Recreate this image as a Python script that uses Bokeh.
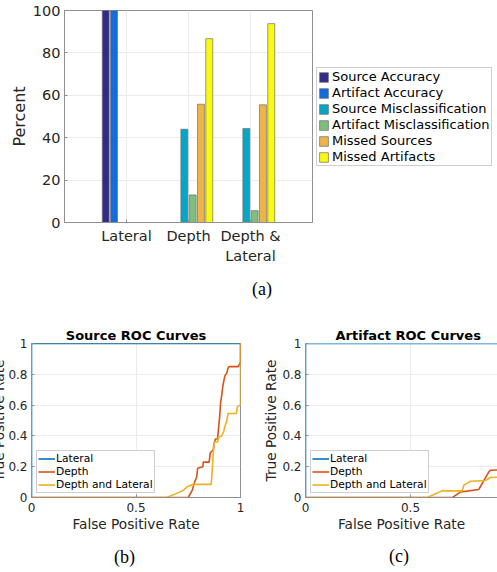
from bokeh.plotting import figure
from bokeh.layouts import column, row
from bokeh.models import (ColumnDataSource, Range1d, FixedTicker, Legend, LegendItem,
                          Title, Div)
from bokeh.transform import dodge
from bokeh.embed import file_html
from bokeh.resources import INLINE

FONT = "DejaVu Sans"
SERIF = "Liberation Serif"
TXT = "#262626"
AXC = "#8f8f8f"
GRID = "#ebebeb"

# ---------------- (a) grouped bars ----------------
group_labels = ["Lateral", "Depth", "Depth &\nLateral"]
group_pos = [1, 2, 3]
series_names = ["Source Accuracy", "Artifact Accuracy", "Source Misclassification",
                "Artifact Misclassification", "Missed Sources", "Missed Artifacts"]
source_accuracy = [100, 0, 0]
artifact_accuracy = [100, 0, 0]
source_misclassification = [0, 44.0, 44.3]
artifact_misclassification = [0, 13.0, 5.6]
missed_sources = [0, 55.8, 55.5]
missed_artifacts = [0, 86.7, 93.8]
bar_colors = ["#352a87", "#0f6ddd", "#06a6c6", "#7dbf7b", "#eeb446", "#f9fb0e"]
y_ticks_a = [0, 20, 40, 60, 80, 100]

# ---------------- (b) source ROC ----------------
lateral_src_fpr = [0, 0, 1]
lateral_src_tpr = [0, 1, 1]
depth_src_fpr = [0, 0.75, 0.77, 0.78, 0.79, 0.795, 0.82, 0.822, 0.85, 0.855, 0.87, 0.872,
                 0.88, 0.89, 0.895, 0.90, 0.905, 0.91, 0.915, 0.925, 0.935, 0.94, 0.945,
                 0.99, 1.0, 1.0]
depth_src_tpr = [0, 0, 0.05, 0.10, 0.13, 0.19, 0.20, 0.23, 0.23, 0.29, 0.31, 0.34,
                 0.38, 0.38, 0.45, 0.52, 0.62, 0.66, 0.72, 0.79, 0.81, 0.84, 0.85,
                 0.85, 0.88, 1.0]
both_src_fpr = [0, 0.647, 0.70, 0.725, 0.745, 0.77, 0.86, 0.865, 0.87, 0.875, 0.89, 0.895,
                0.91, 0.92, 0.925, 0.935, 0.94, 0.98, 0.985, 1.0, 1.0]
both_src_tpr = [0, 0, 0.03, 0.045, 0.07, 0.085, 0.085, 0.18, 0.30, 0.36, 0.36, 0.39,
                0.40, 0.43, 0.46, 0.50, 0.545, 0.545, 0.59, 0.60, 1.0]

# ---------------- (c) artifact ROC ----------------
lateral_art_fpr = [0, 0, 1]
lateral_art_tpr = [0, 1, 1]
depth_art_fpr = [0, 0.70, 0.738, 0.778, 0.825, 0.873, 0.88, 0.95, 1.0, 1.0]
depth_art_tpr = [0, 0, 0.036, 0.043, 0.052, 0.166, 0.177, 0.18, 0.25, 1.0]
both_art_fpr = [0, 0.58, 0.65, 0.746, 0.754, 0.773, 0.786, 0.857, 0.88, 0.95, 1.0, 1.0]
both_art_tpr = [0, 0, 0.043, 0.043, 0.08, 0.095, 0.106, 0.11, 0.13, 0.134, 0.2, 1.0]
roc_names = ["Lateral", "Depth", "Depth and Lateral"]
roc_colors = ["#0072bd", "#d95319", "#edb120"]
roc_ticks_x = [0, 0.5, 1]
roc_ticks_y = [0, 0.2, 0.4, 0.6, 0.8, 1]


def style_axes(p, tick_size, label_size):
    for ax in p.axis:
        ax.axis_line_color = AXC
        ax.major_tick_line_color = AXC
        ax.major_tick_in = 3
        ax.major_tick_out = 0
        ax.minor_tick_line_color = None
        ax.major_label_text_font = FONT
        ax.major_label_text_color = TXT
        ax.major_label_text_font_size = tick_size
        ax.axis_label_text_font = FONT
        ax.axis_label_text_font_style = "normal"
        ax.axis_label_text_color = TXT
        ax.axis_label_text_font_size = label_size
    p.grid.grid_line_color = GRID
    p.outline_line_color = AXC
    p.background_fill_color = "white"
    p.border_fill_color = "white"


def caption(text, width, height, left, top):
    html = ('<div style="padding-left:%dpx; padding-top:%dpx; font-family:\'%s\';'
            ' font-size:18px; line-height:20px; color:#000000; white-space:nowrap;">%s</div>'
            % (left, top, SERIF, text))
    return Div(text=html, width=width, height=height, margin=(0, 0, 0, 0))


# ================= figure (a) =================
src = ColumnDataSource(dict(
    x=group_pos,
    s0=source_accuracy, s1=artifact_accuracy, s2=source_misclassification,
    s3=artifact_misclassification, s4=missed_sources, s5=missed_artifacts))

pa = figure(frame_width=248, frame_height=212, min_border_left=64, min_border_right=185,
            min_border_top=10, min_border_bottom=52,
            x_range=Range1d(0, 4), y_range=Range1d(0, 100),
            output_backend="svg", toolbar_location=None)
step = 0.134
items = []
for i, (name, col) in enumerate(zip(series_names, ["s0", "s1", "s2", "s3", "s4", "s5"])):
    r = pa.vbar(x=dodge("x", (i - 2.5) * step), top=col, width=0.112, source=src,
                fill_color=bar_colors[i], line_color="#6e6e6e", line_width=0.7)
    items.append(LegendItem(label=name, renderers=[r]))
pa.xaxis.ticker = FixedTicker(ticks=group_pos)
pa.xaxis.major_label_overrides = {k: v for k, v in zip(group_pos, group_labels)}
pa.yaxis.ticker = FixedTicker(ticks=y_ticks_a)
pa.yaxis.axis_label = "Percent"
style_axes(pa, "14.5px", "16px")
pa.xaxis.major_label_text_line_height = 1.25
pa.xaxis.major_label_standoff = 5
pa.yaxis.major_label_standoff = 4
pa.yaxis.axis_label_standoff = 1
leg_a = Legend(items=items, location=(4, 56), orientation="vertical",
               label_text_font=FONT, label_text_font_size="13px", label_text_color="#000000",
               glyph_width=11, glyph_height=12, label_height=15, label_standoff=3,
               spacing=1, padding=1, margin=0,
               border_line_color="#a0a0a0", background_fill_alpha=1.0)
pa.add_layout(leg_a, "right")
cap_a = caption("(a)", 497, 31, 252, 5)


# ================= figures (b), (c) =================
def roc_fig(title, fl, fw, br, xmax, series, title_align, title_offset, ylab_standoff):
    p = figure(frame_width=fw, frame_height=154, min_border_left=fl, min_border_right=br,
               min_border_top=38, min_border_bottom=40,
               x_range=Range1d(0, xmax), y_range=Range1d(0, 1),
               output_backend="svg", toolbar_location=None)
    p.title = Title(text=title, align=title_align, offset=title_offset, text_font=FONT,
                    text_font_size="13px", text_font_style="bold", text_color="#000000",
                    standoff=1)
    items = []
    for (fx, ty), name, color in zip(series, roc_names, roc_colors):
        r = p.line(fx, ty, line_color=color, line_width=1.6)
        items.append(LegendItem(label=name, renderers=[r]))
    p.xaxis.ticker = FixedTicker(ticks=roc_ticks_x)
    p.xaxis.major_label_overrides = {0: "0", 0.5: "0.5", 1: "1"}
    p.yaxis.ticker = FixedTicker(ticks=roc_ticks_y)
    p.yaxis.major_label_overrides = {0: "0", 0.2: "0.2", 0.4: "0.4", 0.6: "0.6",
                                     0.8: "0.8", 1: "1"}
    p.xaxis.axis_label = "False Positive Rate"
    p.yaxis.axis_label = "True Positive Rate"
    style_axes(p, "12px", "13.7px")
    p.xaxis.major_label_standoff = 5
    p.yaxis.major_label_standoff = 4
    p.xaxis.axis_label_standoff = 1
    p.yaxis.axis_label_standoff = ylab_standoff
    leg = Legend(items=items, location=(5, 4), label_text_font=FONT,
                 label_text_font_size="10.7px", label_text_color="#000000",
                 glyph_width=17, glyph_height=13, label_height=13, label_standoff=1,
                 spacing=0, padding=1, margin=0, border_line_color="#a0a0a0")
    p.add_layout(leg, "center")
    return p


pb = roc_fig("Source ROC Curves", 44, 209, 18, 1.0,
             [(lateral_src_fpr, lateral_src_tpr), (depth_src_fpr, depth_src_tpr),
              (both_src_fpr, both_src_tpr)], "center", 0, -2)
pb.margin = (0, 0, 0, -13)

pc = roc_fig("Artifact ROC Curves", 47, 192, 0, 192 / 210,
             [(lateral_art_fpr, lateral_art_tpr), (depth_art_fpr, depth_art_tpr),
              (both_art_fpr, both_art_tpr)], "left", 30, 0)
pc.outline_line_color = None

cap_b = caption("(b)", 258, 35, 114, 10)
cap_c = caption("(c)", 239, 35, 131, 9)

layout = column(pa, cap_a, row(pb, pc, spacing=0), row(cap_b, cap_c, spacing=0), spacing=0)

open("out.html", "w").write(file_html(layout, INLINE))
